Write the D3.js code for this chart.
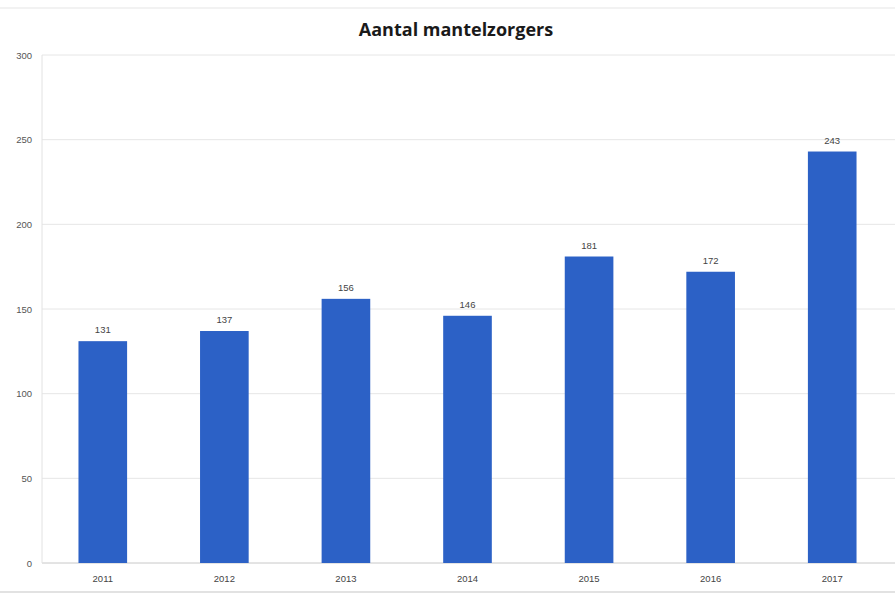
<!DOCTYPE html>
<html><head><meta charset="utf-8">
<script src="https://cdn.jsdelivr.net/npm/d3@7"></script>
<style>body{margin:0;background:#fff;}svg{display:block;}</style>
</head><body>
<svg id="c" width="895" height="596"></svg>
<script>
const years = ["2011","2012","2013","2014","2015","2016","2017"];
const values = [131,137,156,146,181,172,243];
const yTicks = [0,50,100,150,200,250,300];
const title = "Aantal mantelzorgers";

const svg = d3.select("#c");
const W = 895, H = 596;
const m = {left:42, right:2, top:55, bottom:33};
const x = d3.scaleBand().domain(years).range([m.left, W - m.right]).paddingInner(0.6).paddingOuter(0.3);
const y = d3.scaleLinear().domain([0,300]).range([H - m.bottom, m.top]);

// faint scan lines top/bottom
svg.append("line").attr("x1",0).attr("x2",W).attr("y1",8).attr("y2",8).attr("stroke","#eeeeee").attr("stroke-width",1.5);
svg.append("line").attr("x1",0).attr("x2",W).attr("y1",592).attr("y2",592).attr("stroke","#d8d8d8").attr("stroke-width",1.5);

// gridlines
svg.append("g").selectAll("line").data(yTicks).join("line")
  .attr("x1", m.left).attr("x2", W)
  .attr("y1", d => y(d)).attr("y2", d => y(d))
  .attr("stroke", d => d === 0 ? "#c8c8c8" : "#e6e6e6").attr("stroke-width", 1);
// y axis line
svg.append("line").attr("x1", m.left).attr("x2", m.left).attr("y1", y(300)).attr("y2", y(0)).attr("stroke","#e2e2e2");

const yAxis = d3.axisLeft(y).tickValues(yTicks).tickSize(0).tickPadding(10);
const gy = svg.append("g").attr("transform",`translate(${m.left},0)`).call(yAxis);
gy.select(".domain").remove();
gy.selectAll("text").attr("font-family","'Liberation Sans', Arial, sans-serif").attr("font-size",9.5).attr("fill","#555");

const xAxis = d3.axisBottom(x).tickSize(0).tickPadding(12);
const gx = svg.append("g").attr("transform",`translate(0,${y(0)})`).call(xAxis);
gx.select(".domain").remove();
gx.selectAll("text").attr("font-family","'Liberation Sans', Arial, sans-serif").attr("font-size",9.5).attr("fill","#444");

// bars
svg.append("g").selectAll("rect").data(values).join("rect")
  .attr("x", (d,i) => x(years[i]))
  .attr("y", d => y(d))
  .attr("width", x.bandwidth())
  .attr("height", d => y(0) - y(d))
  .attr("fill", "#2c61c6");

// value labels
svg.append("g").selectAll("text").data(values).join("text")
  .attr("x", (d,i) => x(years[i]) + x.bandwidth()/2)
  .attr("y", d => y(d) - 8)
  .attr("text-anchor","middle")
  .attr("font-family","'Liberation Sans', Arial, sans-serif").attr("font-size",9.5).attr("fill","#444")
  .text(d => d);

svg.append("text").attr("x", 456).attr("y", 36).attr("text-anchor","middle")
  .attr("font-family","'Open Sans', 'Liberation Sans', sans-serif").attr("font-weight","bold").attr("font-size",18).attr("fill","#1a1a1a")
  .text(title);
</script>
</body></html>
